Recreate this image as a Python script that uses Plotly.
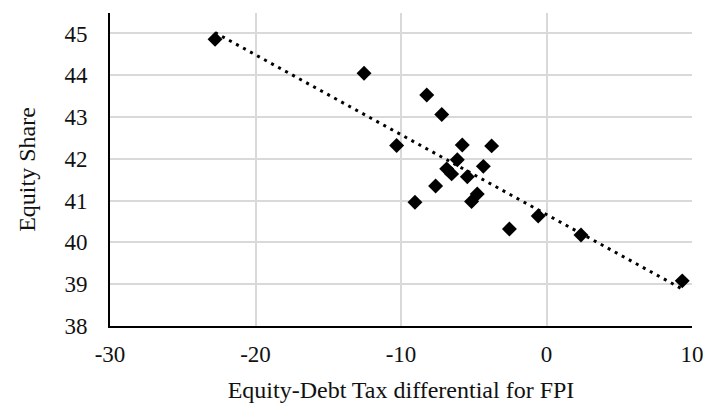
import numpy as np
import plotly.graph_objects as go

# Data
tax_diff = [-22.78, -12.54, -8.23, -7.20, -10.30, -5.79, -3.77, -6.13, -6.86, -6.52,
            -5.44, -4.34, -7.62, -9.04, -4.76, -5.15, -2.55, -0.57, 2.37, 9.33]
equity_share = [44.86, 44.05, 43.53, 43.06, 42.32, 42.33, 42.31, 41.98, 41.76, 41.64,
                41.57, 41.82, 41.35, 40.96, 41.16, 40.98, 40.32, 40.63, 40.18, 39.08]
x_ticks = [-30, -20, -10, 0, 10]
y_ticks = [38, 39, 40, 41, 42, 43, 44, 45]

# Linear trend line (like the spreadsheet trendline)
slope, intercept = np.polyfit(tax_diff, equity_share, 1)
tx = np.array([min(tax_diff), max(tax_diff)])
ty = slope * tx + intercept

FONT = "Liberation Serif, Times New Roman, serif"
TXT = "#111111"

fig = go.Figure()
fig.add_trace(go.Scatter(
    x=tx, y=ty, mode="lines",
    line=dict(color="black", width=3, dash="3px,5px"),
    hoverinfo="skip", showlegend=False,
))
fig.add_trace(go.Scatter(
    x=tax_diff, y=equity_share, mode="markers",
    marker=dict(symbol="diamond", size=11.5, color="black"),
    showlegend=False,
))

fig.update_layout(
    width=707, height=403,
    margin=dict(l=110, r=15, t=13, b=77),
    paper_bgcolor="white", plot_bgcolor="white",
    font=dict(family=FONT, size=23, color=TXT),
)
fig.update_xaxes(
    range=[-30, 10], tickvals=x_ticks, ticktext=[str(v) for v in x_ticks],
    showgrid=True, gridcolor="#d9d9d9", gridwidth=1.5,
    showline=True, linecolor="black", linewidth=2,
    zeroline=False, ticks="", automargin=False,
    ticklabelstandoff=6,
    tickfont=dict(family=FONT, size=23, color=TXT),
    title=dict(text="Equity-Debt Tax differential for FPI",
               font=dict(family=FONT, size=24, color=TXT), standoff=26),
)
fig.update_yaxes(
    range=[38, 45.49], tickvals=y_ticks, ticktext=[str(v) for v in y_ticks],
    showgrid=True, gridcolor="#d9d9d9", gridwidth=1.5,
    showline=True, linecolor="black", linewidth=2,
    zeroline=False, ticks="", automargin=False,
    ticklabelstandoff=16,
    tickfont=dict(family=FONT, size=23, color=TXT),
    title=dict(text="Equity Share",
               font=dict(family=FONT, size=24, color=TXT), standoff=22),
)

# Remove the default page margin so the figure fills the 707x403 window exactly
fig.write_html(
    "out.html",
    config={"displayModeBar": False},
    post_script="document.body.style.margin='0';document.body.style.overflow='hidden';",
)
